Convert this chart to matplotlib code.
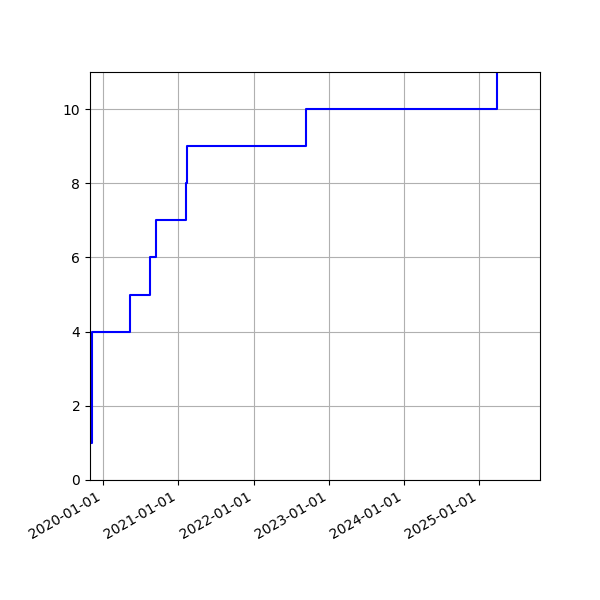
import numpy as np
import pandas as pd
from matplotlib import pyplot as plt
import matplotlib.dates as mdates

#%% data
dates = pd.to_datetime(['2019-11-06', '2019-11-07', '2019-11-07', '2019-11-08',
                        '2020-05-11', '2020-08-17', '2020-09-14',
                        '2021-02-09', '2021-02-10', '2022-09-13', '2025-03-30'])
counts = [1, 2, 3, 4, 5, 6, 7, 8, 9, 10, 11]

x_start = pd.Timestamp('2019-10-30')
x_end = pd.Timestamp('2025-10-23')

#%% figure
fig, ax = plt.subplots(figsize=(6, 6), dpi=100)
fig.subplots_adjust(left=0.15, right=0.9, top=0.88, bottom=0.2)

ax.step(dates, counts, where='post', color='b')

ax.set_xlim([x_start, x_end])
ax.set_ylim([0, 11])
ax.xaxis.set_major_locator(mdates.YearLocator())
ax.xaxis.set_major_formatter(mdates.DateFormatter('%Y-%m-%d'))
ax.grid(True)

for lbl in ax.get_xticklabels():
    lbl.set_rotation(30)
    lbl.set_ha('right')

plt.savefig('out.png', dpi=100)
